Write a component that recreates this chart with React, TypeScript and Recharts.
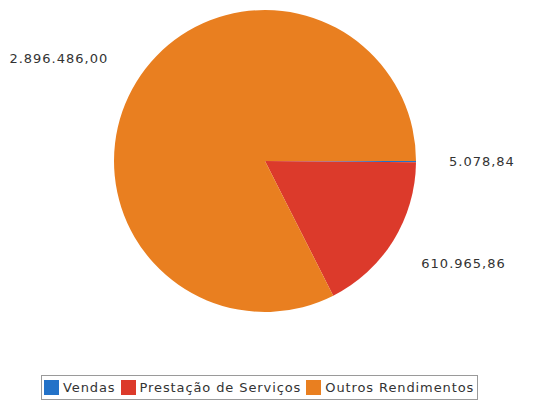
import { PieChart, Pie, Cell, Legend } from 'recharts';

const categories = ['Vendas', 'Prestação de Serviços', 'Outros Rendimentos'];
const values = [5078.84, 610965.86, 2896486.0];
const valueLabels = ['5.078,84', '610.965,86', '2.896.486,00'];
const colors = ['#2372c8', '#dc3a2b', '#e97f20'];

const data = categories.map((name, i) => ({ name, value: values[i], label: valueLabels[i] }));

const RAD = Math.PI / 180;
const font = '"DejaVu Sans", Verdana, sans-serif';

function renderLabel(props: any) {
  const { cx, cy, midAngle, index } = props;
  // labels sit a bit wider than tall, like the original layout
  const x = cx + Math.cos(-midAngle * RAD) * 184;
  const y = cy + Math.sin(-midAngle * RAD) * 195;
  return (
    <text
      x={x}
      y={y}
      fill="#333"
      fontSize={13}
      fontFamily={font}
      letterSpacing={1}
      textAnchor={x > cx ? 'start' : 'end'}
      dominantBaseline="central"
    >
      {valueLabels[index]}
    </text>
  );
}

function LegendBox() {
  return (
    <div
      style={{
        display: 'flex',
        alignItems: 'center',
        border: '1px solid #9a9a9a',
        padding: '4px 3px 4px 2px',
        background: '#fff',
        fontFamily: font,
        fontSize: 13,
        letterSpacing: 0.9,
        color: '#333',
        whiteSpace: 'nowrap',
        lineHeight: '15px',
      }}
    >
      {categories.map((c, i) => (
        <span key={c} style={{ display: 'flex', alignItems: 'center', marginRight: i < categories.length - 1 ? 5 : 0 }}>
          <span style={{ width: 15, height: 15, background: colors[i], display: 'inline-block', marginRight: 4 }} />
          {c}
        </span>
      ))}
    </div>
  );
}

export default function App() {
  return (
    <div style={{ position: 'absolute', left: 0, top: 0, width: 535, height: 409, background: '#fff' }}>
      <PieChart width={535} height={409} margin={{ top: 0, right: 0, bottom: 0, left: 0 }}>
        <Pie
          data={data}
          dataKey="value"
          nameKey="name"
          cx={265}
          cy={161}
          outerRadius={151}
          startAngle={0}
          endAngle={-360}
          stroke="none"
          label={renderLabel}
          labelLine={false}
          isAnimationActive={false}
        >
          {data.map((d, i) => (
            <Cell key={d.name} fill={colors[i]} />
          ))}
        </Pie>
        <Legend
          content={() => <LegendBox />}
          wrapperStyle={{ left: 41, top: 375, width: 'auto', bottom: 'auto' }}
        />
      </PieChart>
    </div>
  );
}
